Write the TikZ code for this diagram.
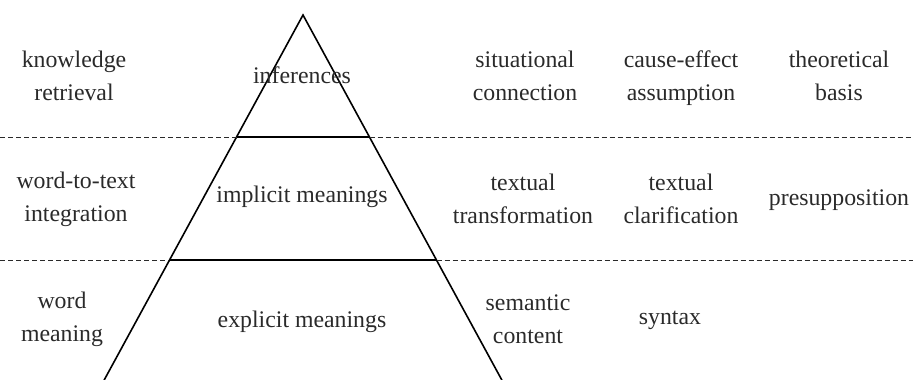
\documentclass[tikz,border=0pt]{standalone}
\usepackage{fontspec}
\setmainfont{Liberation Serif}
\usepackage{xcolor}
\definecolor{inkgray}{HTML}{2A2A2A}

\begin{document}
\begin{tikzpicture}[x=1pt, y=-1pt,
  lbl/.style={align=center, inner sep=0pt, text=inkgray,
    font=\fontsize{23.8}{33}\selectfont},
  sep/.style={dashed, dash pattern=on 5pt off 3pt, line width=1pt, inkgray},
  side/.style={line width=1.6pt, black}]
  \useasboundingbox (0,0) rectangle (913,380);
  % pyramid corners and level cuts
  \coordinate (apex) at (303,15);
  \coordinate (baseL) at (102,384);
  \coordinate (baseR) at (504,384);
  \coordinate (upL) at (236.5,137);
  \coordinate (upR) at (369.5,137);
  \coordinate (midL) at (169.4,260);
  \coordinate (midR) at (436.6,260);
  \coordinate (edgeL1) at (0,137);
  \coordinate (edgeR1) at (913,137);
  \coordinate (edgeL2) at (0,260);
  \coordinate (edgeR2) at (913,260);
  \draw[side] (baseL) -- (apex) -- (baseR);
  \draw[side] (upL) -- (upR);
  \draw[side] (midL) -- (midR);
  \draw[sep] (edgeL1) -- (upL);
  \draw[sep] (upR) -- (edgeR1);
  \draw[sep] (edgeL2) -- (midL);
  \draw[sep] (midR) -- (edgeR2);
  % top level
  \node[lbl] (retrieval) at (74,76) {knowledge\\retrieval};
  \node[lbl] (inferences) at (302,75) {inferences};
  \node[lbl] (situational) at (525,76) {situational\\connection};
  \node[lbl] (causal) at (681,78) {cause-effect\\assumption};
  \node[lbl] (theory) at (839,76) {theoretical\\basis};
  % middle level
  \node[lbl] (integration) at (76,199) {word-to-text\\integration};
  \node[lbl] (implicit) at (302,197) {implicit meanings};
  \node[lbl] (transform) at (523,199) {textual\\transformation};
  \node[lbl] (clarify) at (681,199) {textual\\clarification};
  \node[lbl] (presupp) at (839,200) {presupposition};
  % bottom level
  \node[lbl] (wordmean) at (62,319) {word\\meaning};
  \node[lbl] (explicit) at (302,322) {explicit meanings};
  \node[lbl] (semantic) at (528,319) {semantic\\content};
  \node[lbl] (syntax) at (670,320) {syntax};
\end{tikzpicture}
\end{document}
